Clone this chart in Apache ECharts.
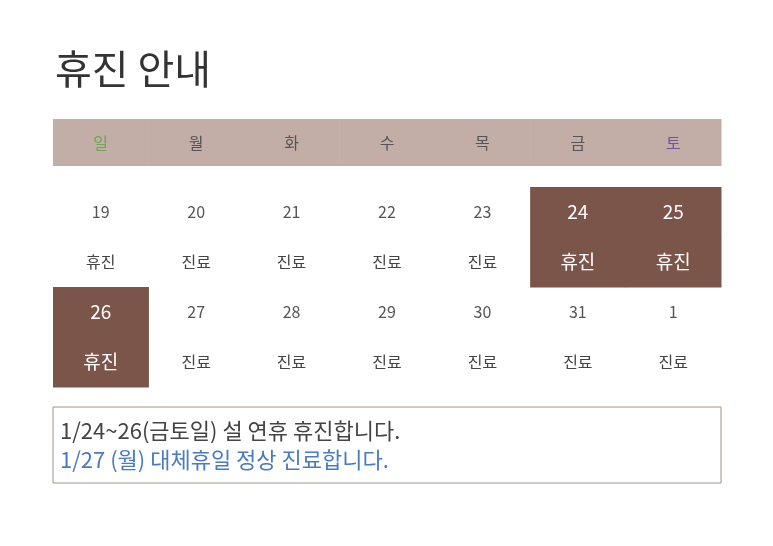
<!DOCTYPE html><html><head><meta charset="utf-8"><script src="https://cdn.jsdelivr.net/npm/echarts@6/dist/echarts.min.js"></script>
<style>html,body{margin:0;background:#fff}#c{width:773px;height:546px}</style></head><body><div id="c"></div><script>
const title = '휴진 안내';
const weekdays = ['일','월','화','수','목','금','토'];
const week1Dates = ['19','20','21','22','23','24','25'];
const week1Status = ['휴진','진료','진료','진료','진료','휴진','휴진'];
const week2Dates = ['26','27','28','29','30','31','1'];
const week2Status = ['휴진','진료','진료','진료','진료','진료','진료'];
const week1Closed = [0,0,0,0,0,1,1];
const week2Closed = [1,0,0,0,0,0,0];
const notes = ['1/24~26(금토일) 설 연휴 휴진합니다.','1/27 (월) 대체휴일 정상 진료합니다.'];

const F = '"Noto Sans CJK KR","Noto Sans",sans-serif';
const dark = '#7b5549';
function dateColor(w, i){
  if (w===1 && i===0) return '#a0776a';
  if (w===2 && i===1) return '#4a7bbf';
  if (w===2 && i===6) return '#7a4fa0';
  return '#555';
}
const data = [];
weekdays.forEach((d,i)=>data.push([i,0,d,'h',0]));
week1Dates.forEach((d,i)=>data.push([i,1,d,'d',week1Closed[i],1]));
week1Status.forEach((d,i)=>data.push([i,2,d,'s',week1Closed[i],1]));
week2Dates.forEach((d,i)=>data.push([i,3,d,'d',week2Closed[i],2]));
week2Status.forEach((d,i)=>data.push([i,4,d,'s',week2Closed[i],2]));
// row y ranges in axis units (1 unit = 50px)
const rowTop = [0,1.36,2.36,3.36,4.36];
const rowH = [0.94,1,1,1,1];
const chart = echarts.init(document.getElementById('c'));
chart.setOption({
  animation:false,
  title:{text:title,left:50,top:44,textStyle:{fontFamily:F,fontSize:40,fontWeight:'normal',color:'#333'}},
  grid:{left:53,right:52,top:119,bottom:159},
  xAxis:{type:'value',min:0,max:7,show:false},
  yAxis:{type:'value',min:0,max:5.36,inverse:true,show:false},
  series:[{type:'custom',data:data,renderItem:function(p,api){
    const c=api.value(0), r=api.value(1), kind=api.value(3), closed=api.value(4), w=api.value(5);
    const txt = data[p.dataIndex][2];
    const tl=api.coord([c,rowTop[r]]), br=api.coord([c+1,rowTop[r]+rowH[r]]);
    const x=tl[0],y=tl[1],wd=br[0]-tl[0],ht=br[1]-tl[1];
    const ch=[];
    let col, size=16, fw='normal';
    if(kind==='h'){
      ch.push({type:'rect',shape:{x:x,y:y,width:wd+0.5,height:ht},style:{fill:'#c2aea6'}});
      col = c===0?'#6aa84f':(c===6?'#7a4fa0':'#555');
    } else {
      if(closed){ ch.push({type:'rect',shape:{x:x,y:y,width:wd+0.5,height:ht+0.5},style:{fill:dark}}); col='#fff'; size=19; }
      else {
        col = kind==='d'?dateColor(w,c):(w===1&&c===0?'#a0776a':(w===2&&c===1?'#4a7bbf':(w===2&&c===6?'#7a4fa0':'#444')));
        if(w===2&&c===1){size=20;}
      }
      if(kind==='d'&&!closed&&!(w===2&&c===1)) size=16;
    }
    ch.push({type:'text',style:{text:txt,x:x+wd/2,y:y+ht/2,align:'center',verticalAlign:'middle',fill:col,font:fw+' '+size+'px '+F}});
    return {type:'group',children:ch};
  }}],
  graphic:[
    {type:'rect',shape:{x:53,y:407,width:668,height:76},style:{fill:'none',stroke:'#a89088',lineWidth:1}},
    {type:'text',style:{x:60,y:431,text:notes[0],fill:'#444',font:'22px '+F,verticalAlign:'middle'}},
    {type:'text',style:{x:60,y:460,text:notes[1],fill:'#4a7bbf',font:'22px '+F,verticalAlign:'middle'}}
  ]
});
</script></body></html>
